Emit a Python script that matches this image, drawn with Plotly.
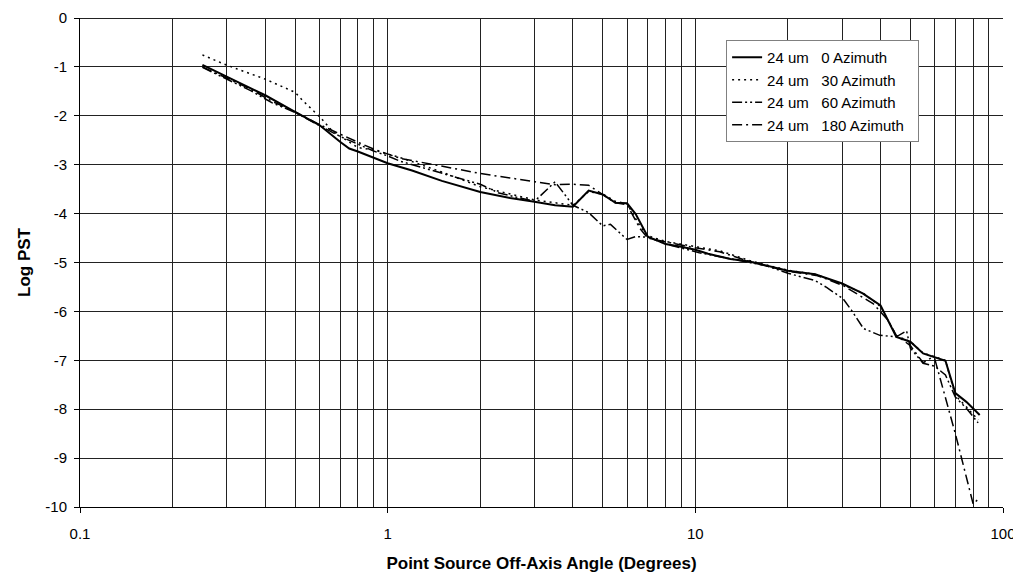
import plotly.graph_objects as go

# ---- data (angle in degrees, Log PST) ----
az0_x = [0.25, 0.3, 0.4, 0.5, 0.6, 0.7, 0.75, 0.8, 0.9, 1.0, 1.2, 1.5, 2, 2.5, 3, 3.5, 4, 4.5, 5, 5.5, 6, 6.4,
         7, 8, 9, 10, 11, 12, 13, 15, 17, 20, 24.5, 30, 35, 40, 45, 50, 55, 60, 65, 70, 76, 84]
az0_y = [-0.96, -1.2, -1.58, -1.92, -2.19, -2.53, -2.67, -2.73, -2.85, -2.97, -3.12, -3.33, -3.56, -3.68, -3.76,
         -3.83, -3.86, -3.53, -3.61, -3.78, -3.79, -4.01, -4.47, -4.62, -4.68, -4.74, -4.82, -4.88, -4.93, -4.98,
         -5.06, -5.17, -5.24, -5.43, -5.63, -5.88, -6.52, -6.62, -6.86, -6.94, -7.01, -7.67, -7.85, -8.12]

az30_x = [0.25, 0.3, 0.4, 0.5, 0.53, 0.58, 0.61, 0.66, 0.8, 0.9, 1.12, 1.5, 2, 3, 4, 4.5, 5, 5.5, 6, 6.6,
          7, 8, 10, 12, 15, 20, 25, 30, 35, 40, 45, 50, 55, 60, 65, 70, 76, 83]
az30_y = [-0.755, -0.965, -1.25, -1.52, -1.69, -1.94, -2.06, -2.31, -2.65, -2.70, -2.87, -3.15, -3.45, -3.72,
          -3.83, -3.55, -3.6, -3.75, -3.8, -4.25, -4.45, -4.57, -4.68, -4.76, -4.96, -5.16, -5.25, -5.45,
          -5.62, -5.9, -6.5, -6.62, -6.85, -6.93, -7.0, -7.72, -7.95, -8.22]

az60_x = [0.25, 0.29, 0.36, 0.42, 0.5, 0.6, 0.7, 0.8, 0.9, 1.0, 1.1, 2, 2.3, 3, 3.5, 4, 4.5, 5, 5.3, 6, 6.4,
          7, 8, 10.3, 13.3, 17.1, 20, 24.5, 26.7, 30.2, 32.2, 35.2, 39.8, 45, 48.6, 50, 55, 60, 65, 70, 76, 83]
az60_y = [-1.01, -1.21, -1.49, -1.73, -1.93, -2.2, -2.42, -2.58, -2.72, -2.82, -2.93, -3.40, -3.58, -3.75,
          -3.35, -3.83, -3.98, -4.25, -4.22, -4.53, -4.47, -4.48, -4.62, -4.8, -4.93, -5.07, -5.22, -5.37,
          -5.51, -5.74, -5.98, -6.35, -6.49, -6.52, -6.4, -6.75, -7.06, -7.12, -7.3, -7.75, -7.98, -8.28]

az180_x = [0.25, 0.29, 0.36, 0.42, 0.5, 0.6, 0.7, 0.8, 0.9, 1.0, 1.1, 2, 3, 3.5, 4, 4.5, 5, 5.5, 6, 6.6,
           7, 8, 10, 12, 15, 20, 25, 30.2, 34, 37.8, 42.3, 45, 50, 55, 58.5, 60, 70, 80, 84]
az180_y = [-1.0, -1.19, -1.46, -1.7, -1.92, -2.18, -2.38, -2.54, -2.68, -2.78, -2.87, -3.18, -3.34, -3.41,
           -3.4, -3.42, -3.61, -3.78, -3.82, -4.3, -4.5, -4.58, -4.7, -4.78, -4.98, -5.18, -5.27, -5.47,
           -5.66, -5.84, -6.18, -6.49, -6.7, -7.05, -6.95, -6.97, -8.5, -9.94, -9.81]

series_names = ["24 um\u00a0\u00a0\u00a00 Azimuth\u00a0\u00a0", "24 um\u00a0\u00a0\u00a030 Azimuth\u00a0\u00a0",
                "24 um\u00a0\u00a0\u00a060 Azimuth\u00a0\u00a0", "24 um\u00a0\u00a0\u00a0180 Azimuth\u00a0\u00a0"]

x_major_vals = [0.1, 1, 10, 100]
x_major_text = ["0.1", "1", "10", "100"]
x_grid_vals = [m * d for d in (0.1, 1, 10) for m in range(2, 10)] + [1, 10]
y_vals = list(range(-10, 1))
y_text = ["-10", "-9", "-8", "-7", "-6", "-5", "-4", "-3", "-2", "-1", "0"]

fig = go.Figure()
styles = [
    dict(color="black", width=2, dash="solid"),
    dict(color="black", width=1.5, dash="2px,4px"),
    dict(color="black", width=1.5, dash="10px,3px,2px,3px,2px,3px"),
    dict(color="black", width=1.5, dash="10px,4px,2px,4px"),
]
for xs, ys, nm, st in zip([az0_x, az30_x, az60_x, az180_x], [az0_y, az30_y, az60_y, az180_y], series_names, styles):
    fig.add_trace(go.Scatter(x=xs, y=ys, mode="lines", name=nm, line=st))

# the page body has an 8px margin, so the figure is sized/offset to compensate
fig.update_layout(
    width=1013, height=575,
    margin=dict(l=72, r=18, t=10, b=76),
    paper_bgcolor="white", plot_bgcolor="white",
    font=dict(family="Liberation Sans, Arial, sans-serif", size=15, color="black"),
    legend=dict(x=0.7, y=0.955, xanchor="left", yanchor="top", bgcolor="white",
                bordercolor="#808080", borderwidth=1, font=dict(size=15), tracegroupgap=0),
    showlegend=True,
)
fig.update_xaxes(
    type="log", range=[-1, 2], automargin=False,
    tickmode="array", tickvals=x_major_vals, ticktext=x_major_text,
    showgrid=False,
    minor=dict(tickmode="array", tickvals=x_grid_vals, showgrid=True, gridcolor="#222", gridwidth=1, ticks=""),
    showline=True, linecolor="black", linewidth=1,
    ticks="outside", ticklen=5, tickcolor="black",
    ticklabelstandoff=8, ticklabeloverflow="allow",
    title=dict(text="<b>Point Source Off-Axis Angle (Degrees)</b>", font=dict(size=17), standoff=16),
    zeroline=False,
)
fig.update_yaxes(
    range=[-10, 0], tickmode="array", tickvals=y_vals, ticktext=y_text, automargin=False,
    showgrid=True, gridcolor="#222", gridwidth=1,
    zeroline=True, zerolinecolor="#222", zerolinewidth=1,
    showline=True, linecolor="black", linewidth=1,
    ticks="outside", ticklen=5, tickcolor="black",
    ticklabelstandoff=4, ticklabeloverflow="allow",
    title=dict(text="<b>Log PST</b>", font=dict(size=17), standoff=10),
)
fig.write_html("out.html")
